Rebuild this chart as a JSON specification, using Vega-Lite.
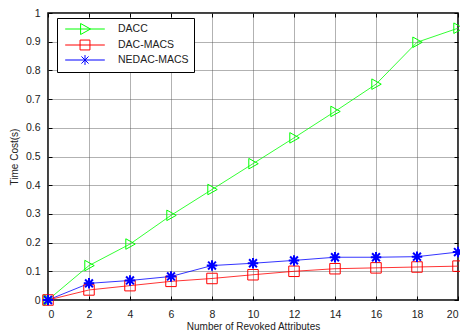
{
  "$schema": "https://vega.github.io/schema/vega-lite/v6.json",
  "width": 410,
  "height": 287,
  "autosize": {"type": "none"},
  "padding": {"left": 48, "top": 13, "right": 2, "bottom": 32},
  "background": "white",
  "config": {
    "font": "Liberation Sans",
    "view": {"stroke": "black", "strokeWidth": 1.5},
    "axis": {
      "labelFont": "Liberation Sans",
      "titleFont": "Liberation Sans",
      "labelFontSize": 10.5,
      "titleFontSize": 10,
      "titleFontWeight": "normal",
      "labelColor": "#222",
      "titleColor": "#222",
      "domain": false,
      "tickColor": "black",
      "tickSize": -4,
      "tickWidth": 1,
      "gridColor": "#555",
      "gridDash": [1, 1],
      "gridOpacity": 0.9,
      "gridWidth": 1
    }
  },
  "data": {
    "values": [
      {"x": 0, "y": 0, "s": "DACC"},
      {"x": 2, "y": 0.12, "s": "DACC"},
      {"x": 4, "y": 0.195, "s": "DACC"},
      {"x": 6, "y": 0.295, "s": "DACC"},
      {"x": 8, "y": 0.385, "s": "DACC"},
      {"x": 10, "y": 0.475, "s": "DACC"},
      {"x": 12, "y": 0.565, "s": "DACC"},
      {"x": 14, "y": 0.657, "s": "DACC"},
      {"x": 16, "y": 0.752, "s": "DACC"},
      {"x": 18, "y": 0.898, "s": "DACC"},
      {"x": 20, "y": 0.947, "s": "DACC"},
      {"x": 0, "y": 0, "s": "DAC-MACS"},
      {"x": 2, "y": 0.035, "s": "DAC-MACS"},
      {"x": 4, "y": 0.05, "s": "DAC-MACS"},
      {"x": 6, "y": 0.065, "s": "DAC-MACS"},
      {"x": 8, "y": 0.075, "s": "DAC-MACS"},
      {"x": 10, "y": 0.088, "s": "DAC-MACS"},
      {"x": 12, "y": 0.1, "s": "DAC-MACS"},
      {"x": 14, "y": 0.109, "s": "DAC-MACS"},
      {"x": 16, "y": 0.112, "s": "DAC-MACS"},
      {"x": 18, "y": 0.115, "s": "DAC-MACS"},
      {"x": 20, "y": 0.118, "s": "DAC-MACS"},
      {"x": 0, "y": 0, "s": "NEDAC-MACS"},
      {"x": 2, "y": 0.058, "s": "NEDAC-MACS"},
      {"x": 4, "y": 0.068, "s": "NEDAC-MACS"},
      {"x": 6, "y": 0.082, "s": "NEDAC-MACS"},
      {"x": 8, "y": 0.12, "s": "NEDAC-MACS"},
      {"x": 10, "y": 0.128, "s": "NEDAC-MACS"},
      {"x": 12, "y": 0.138, "s": "NEDAC-MACS"},
      {"x": 14, "y": 0.149, "s": "NEDAC-MACS"},
      {"x": 16, "y": 0.149, "s": "NEDAC-MACS"},
      {"x": 18, "y": 0.151, "s": "NEDAC-MACS"},
      {"x": 20, "y": 0.167, "s": "NEDAC-MACS"}
    ]
  },
  "layer": [
    {
      "mark": {"type": "line", "strokeWidth": 0.8, "clip": false},
      "encoding": {
        "x": {
          "field": "x", "type": "quantitative",
          "scale": {"domain": [0, 20], "nice": false},
          "axis": {"values": [0,2,4,6,8,10,12,14,16,18,20], "title": "Number of Revoked Attributes", "labelPadding": 13, "titlePadding": 2, "grid": true}
        },
        "y": {
          "field": "y", "type": "quantitative",
          "scale": {"domain": [0, 1], "nice": false},
          "axis": {"values": [0,0.1,0.2,0.3,0.4,0.5,0.6,0.7,0.8,0.9,1], "format": ".1~f", "title": "Time Cost(s)", "labelPadding": 12, "titlePadding": 6, "grid": true}
        },
        "color": {
          "field": "s", "type": "nominal",
          "scale": {"domain": ["DACC", "DAC-MACS", "NEDAC-MACS"], "range": ["#00ff00", "#ff0000", "#0000ff"]},
          "legend": {
            "orient": "none",
            "legendX": 9,
            "legendY": 5,
            "title": null,
            "strokeColor": "black",
            "fillColor": "white",
            "padding": 5,
            "symbolSize": 121,
            "symbolOffset": 17,
            "symbolStrokeWidth": 1,
            "symbolFillColor": "transparent",
            "labelFont": "Liberation Sans",
            "labelFontSize": 10.5,
            "labelColor": "#222",
            "labelOffset": 27,
            "rowPadding": 1,
            "symbolOpacity": 1,
            "encode": {
              "symbols": {
                "update": {
                  "shape": {"signal": "datum.value === 'DACC' ? 'M-3.6,0H3.6M-0.8,-1L1,0L-0.8,1Z' : (datum.value === 'DAC-MACS' ? 'M-3.6,0H3.6M-0.9,-0.9H0.9V0.9H-0.9Z' : 'M-3.6,0H3.6M0,-0.9V0.9M-0.65,-0.65L0.65,0.65M-0.65,0.65L0.65,-0.65')"},
                  "fill": {"value": "transparent"}
                }
              }
            }
          }
        }
      }
    },
    {
      "mark": {
        "type": "point", "filled": false, "size": 110, "opacity": 1, "clip": false,
        "shape": {"expr": "datum.s === 'DACC' ? 'M-0.8,-1L1,0L-0.8,1Z' : (datum.s === 'DAC-MACS' ? 'square' : 'M-1,0H1M0,-1V1M-0.75,-0.75L0.75,0.75M-0.75,0.75L0.75,-0.75')"},
        "strokeWidth": {"expr": "datum.s === 'NEDAC-MACS' ? 2 : 1"}
      },
      "encoding": {
        "x": {"field": "x", "type": "quantitative", "axis": {"orient": "top", "values": [0,2,4,6,8,10,12,14,16,18,20], "labels": false, "title": null, "grid": false}},
        "y": {"field": "y", "type": "quantitative", "axis": {"orient": "right", "values": [0,0.1,0.2,0.3,0.4,0.5,0.6,0.7,0.8,0.9,1], "labels": false, "title": null, "grid": false}},
        "color": {"field": "s", "type": "nominal", "legend": null}
      }
    }
  ],
  "resolve": {"axis": {"x": "independent", "y": "independent"}}
}
